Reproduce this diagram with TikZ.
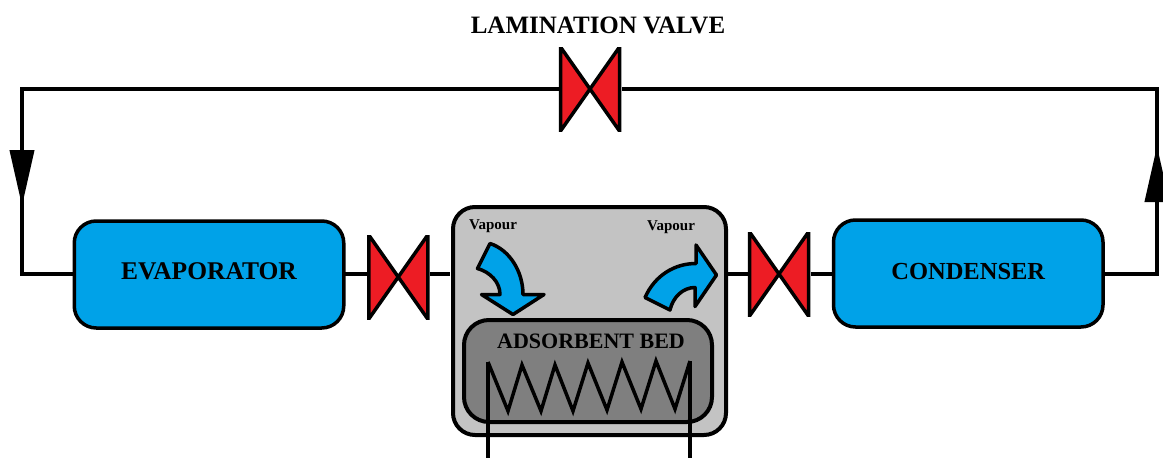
\documentclass[tikz,border=0pt]{standalone}
\usepackage{fontspec}
\setmainfont{Liberation Serif}
\usetikzlibrary{arrows.meta,positioning}

\definecolor{unitblue}{HTML}{00A2E8}
\definecolor{valvered}{HTML}{ED1C24}
\definecolor{casegray}{HTML}{C3C3C3}
\definecolor{coregray}{HTML}{7F7F7F}

\begin{document}
\begin{tikzpicture}[x=1pt,y=-1pt,line width=4pt,outer sep=0pt,inner sep=0pt]
       \tikzstyle{unit}=[draw,line width=3.5pt,fill=unitblue,rounded corners=22pt,minimum width=269.5pt,minimum height=107pt,
                         font=\fontsize{24.5}{28}\selectfont\bfseries]
       \tikzstyle{valve}=[minimum width=63pt,minimum height=84pt,
                          path picture={\draw[fill=valvered,line width=3.5pt] (-29.5,-42) -- (29.5,42) -- (29.5,-42) -- (-29.5,42) -- cycle;}]
       \tikzstyle{vapour}=[font=\fontsize{15}{18}\selectfont\bfseries]
       \tikzstyle{flowtip}=[-{Triangle[length=56pt,width=24pt]}]
       \tikzstyle{steam}=[draw,fill=unitblue,line join=round,line width=3.5pt]

       \useasboundingbox (0,0) rectangle (1163,458);

       \node[unit,text depth=7pt,font=\fontsize{25.5}{28}\selectfont\bfseries] (evap) at (209,274.5) {EVAPORATOR};
       \node[valve] (inletvalve) [right=23pt of evap,yshift=-2.5pt] {};
       \node[draw,fill=casegray,rounded corners=22pt,minimum width=273pt,minimum height=228pt] (bedcase) at (589.5,321) {};
       \node[valve] (outletvalve) at (779,274) {};
       \node[unit,text depth=4pt] (cond) [right=23pt of outletvalve,yshift=0.5pt] {CONDENSER};
       \node[valve] (lamvalve) at (590,89) {};
       \node[font=\fontsize{25}{28}\selectfont\bfseries] (lamlabel) [above=13pt of lamvalve,xshift=8pt] {LAMINATION VALVE};
       \node[draw,fill=coregray,rounded corners=25pt,minimum width=248pt,minimum height=102pt] (bed) at (588,371) {};
       \node[font=\fontsize{22}{26}\selectfont\bfseries] (bedlabel) at (591,341) {ADSORBENT BED};
       \node[vapour] (vapourin) at (493,226) {Vapour};
       \node[vapour] (vapourout) at (671,227) {Vapour};

       \coordinate (leftrun) at (22,273.5);
       \coordinate (rightrun) at (1157,89);
       \coordinate (rightfoot) at (1157,273.5);
       \coordinate (downbase) at (22,150);
       \coordinate (downtip) at (22,206);
       \coordinate (upbase) at (1157,202);
       \coordinate (uptip) at (1157,146);
       \coordinate (coilin) at (488,362);
       \coordinate (coilout) at (690,361);
       \coordinate (portin) at (488,458);
       \coordinate (portout) at (690,458);

       % pipes
       \draw (lamvalve.west) -| (leftrun) -- (leftrun -| evap.west);
       \draw (rightfoot -| cond.east) -- (rightfoot) -- (rightrun) -- (lamvalve.east);
       \draw (leftrun -| evap.east) -- (leftrun -| inletvalve.west);
       \draw[shorten >=3pt] (leftrun -| inletvalve.east) -- (leftrun -| bedcase.west);
       \draw (rightfoot -| outletvalve.west) -- (rightfoot -| bedcase.east);
       \draw (rightfoot -| outletvalve.east) -- (rightfoot -| cond.west);
       \draw[flowtip] (downbase) -- (downtip);
       \draw[flowtip] (upbase) -- (uptip);

       % coil
       \draw[line width=3.5pt,line join=miter] (coilin) -- (508,411) -- (522,365) -- (541,411) -- (555,365)
            -- (573,411) -- (588,363) -- (607,410) -- (622,362) -- (641,409) -- (656,361) -- (675,409) -- (coilout);
       \draw (coilin) -- (portin);
       \draw (coilout) -- (portout);

       % vapour arrows
       \path[steam] (490,243.5) .. controls (510,250) and (523,272) .. (523,294.5) -- (544,294.5)
            -- (513,314.5) -- (481.5,294.5) -- (500,294.5) .. controls (500,282) and (490,272) .. (477.5,268.5) -- cycle;
       \path[steam] (645,297.5) .. controls (655,275) and (675,263.5) .. (696,263.5) -- (696,245)
            -- (716.5,275) -- (695,306.5) -- (695,287.5) .. controls (683,287.5) and (673,297) .. (670,310) -- cycle;
\end{tikzpicture}
\end{document}
